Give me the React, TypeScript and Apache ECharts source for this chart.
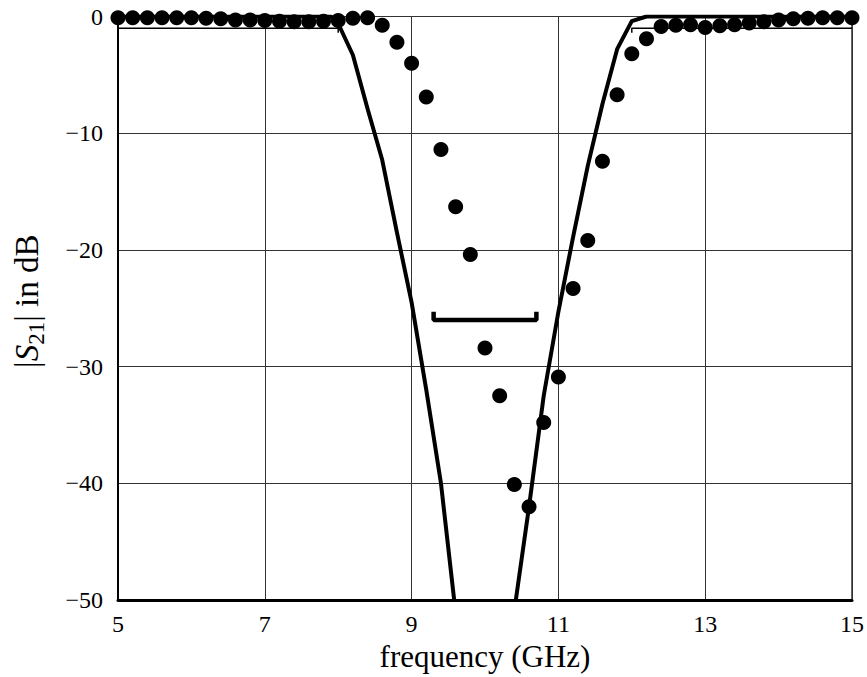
import React, { useEffect, useRef } from "react";
import * as echarts from "echarts";

// Measured transmission |S21| (dots), one sample every 0.2 GHz
const measFreq = [
  5.0, 5.2, 5.4, 5.6, 5.8, 6.0, 6.2, 6.4, 6.6, 6.8, 7.0, 7.2, 7.4, 7.6, 7.8,
  8.0, 8.2, 8.4, 8.6, 8.8, 9.0, 9.2, 9.4, 9.6, 9.8, 10.0, 10.2, 10.4, 10.6,
  10.8, 11.0, 11.2, 11.4, 11.6, 11.8, 12.0, 12.2, 12.4, 12.6, 12.8, 13.0,
  13.2, 13.4, 13.6, 13.8, 14.0, 14.2, 14.4, 14.6, 14.8, 15.0,
];
const measS21 = [
  -0.1, -0.1, -0.1, -0.1, -0.1, -0.1, -0.15, -0.2, -0.3, -0.3, -0.35, -0.4,
  -0.45, -0.45, -0.4, -0.35, -0.15, -0.1, -0.75, -2.2, -4.0, -6.9, -11.4,
  -16.3, -20.4, -28.4, -32.5, -40.1, -42.0, -34.8, -30.9, -23.3, -19.2, -12.4,
  -6.7, -3.2, -1.9, -0.85, -0.75, -0.7, -0.95, -0.8, -0.7, -0.55, -0.45, -0.3,
  -0.2, -0.15, -0.1, -0.1, -0.1,
];

// Simulated response (solid curve); the notch bottom falls below the axis and is clipped
const simFreq = [
  5.0, 7.9, 8.0, 8.2, 8.4, 8.6, 8.8, 9.0, 9.2, 9.4, 9.58, 9.7, 10.0, 10.3,
  10.42, 10.6, 10.8, 11.0, 11.2, 11.4, 11.6, 11.8, 12.0, 12.2, 15.0,
];
const simS21 = [
  0, 0, -0.6, -3.3, -7.9, -12.3, -18.5, -24.5, -32.0, -40.0, -50.0, -57.0,
  -70.0, -55.3, -50.0, -42.0, -32.5, -25.3, -18.9, -12.8, -7.5, -2.8, -0.4, 0,
  0,
];

// Specification mask: passband loss limits and stopband rejection limit
const passLowFreq = [5.0, 8.0, 8.0];
const passLowLevel = [-1, -1, -1.4];
const passHighFreq = [12.0, 12.0, 15.0];
const passHighLevel = [-1.4, -1, -1];
const stopFreq = [9.3, 9.3, 10.7, 10.7];
const stopLevel = [-25.3, -26, -26, -25.3];

// Axis ticks
const xTicks = { min: 5, max: 15, step: 2 };
const yTicks = { min: -50, max: 0, step: 10 };

const pairs = (xs: number[], ys: number[]) => xs.map((x, i) => [x, ys[i]]);

const SERIF = "Liberation Serif";

export default function App() {
  const ref = useRef<HTMLDivElement>(null);

  useEffect(() => {
    if (!ref.current) return;
    const chart = echarts.init(ref.current, null, { renderer: "svg" });

    const maskLine = (data: number[][], width: number) => ({
      type: "line",
      data,
      showSymbol: false,
      symbol: "none",
      lineStyle: { color: "#000", width },
      z: 3,
    });

    chart.setOption({
      animation: false,
      backgroundColor: "#fff",
      textStyle: { fontFamily: SERIF },
      grid: {
        left: 118,
        right: 7.5,
        top: 16.5,
        bottom: 77,
        show: true,
        borderColor: "#000",
        borderWidth: 1.2,
        backgroundColor: "transparent",
      },
      xAxis: {
        type: "value",
        min: xTicks.min,
        max: xTicks.max,
        interval: xTicks.step,
        name: "frequency (GHz)",
        nameLocation: "middle",
        nameGap: 36,
        nameTextStyle: { fontFamily: SERIF, fontSize: 31, color: "#000" },
        axisLine: { show: true, onZero: false, lineStyle: { color: "#000", width: 3 } },
        axisTick: { show: false },
        axisLabel: { fontFamily: SERIF, fontSize: 24, color: "#000", margin: 12 },
        splitLine: { show: true, lineStyle: { color: "#333", width: 1 } },
      },
      yAxis: {
        type: "value",
        min: yTicks.min,
        max: yTicks.max,
        interval: yTicks.step,
        name: "{t||}{i|S}{s|21}{t|| in dB}",
        nameLocation: "middle",
        nameGap: 70,
        nameTextStyle: {
          fontFamily: SERIF,
          fontSize: 33,
          color: "#000",
          padding: [0, 0, 0, 14],
          rich: {
            t: { fontFamily: SERIF, fontSize: 33, color: "#000", lineHeight: 42, verticalAlign: "middle" },
            i: { fontFamily: SERIF, fontSize: 33, fontStyle: "italic", color: "#000", lineHeight: 42, verticalAlign: "middle" },
            s: { fontFamily: SERIF, fontSize: 23, color: "#000", lineHeight: 42, verticalAlign: "bottom" },
          },
        },
        axisLine: { show: true, onZero: false, lineStyle: { color: "#000", width: 2 } },
        axisTick: { show: false },
        axisLabel: {
          fontFamily: SERIF,
          fontSize: 24,
          color: "#000",
          margin: 15,
          formatter: (v: number) => (v < 0 ? "\u2212" + Math.abs(v) : String(v)),
        },
        splitLine: { show: true, lineStyle: { color: "#333", width: 1 } },
      },
      series: [
        maskLine(pairs(passLowFreq, passLowLevel), 1.5),
        maskLine(pairs(passHighFreq, passHighLevel), 1.5),
        maskLine(pairs(stopFreq, stopLevel), 4.5),
        {
          type: "line",
          data: pairs(simFreq, simS21),
          showSymbol: false,
          symbol: "none",
          clip: true,
          lineStyle: { color: "#000", width: 4, join: "round" },
          z: 4,
        },
        {
          type: "scatter",
          data: pairs(measFreq, measS21),
          symbol: "circle",
          symbolSize: 15,
          itemStyle: { color: "#000", opacity: 1 },
          z: 5,
        },
      ],
    });

    return () => chart.dispose();
  }, []);

  return (
    <div
      ref={ref}
      style={{ position: "fixed", left: 0, top: 0, width: 867, height: 677, background: "#fff" }}
    />
  );
}
